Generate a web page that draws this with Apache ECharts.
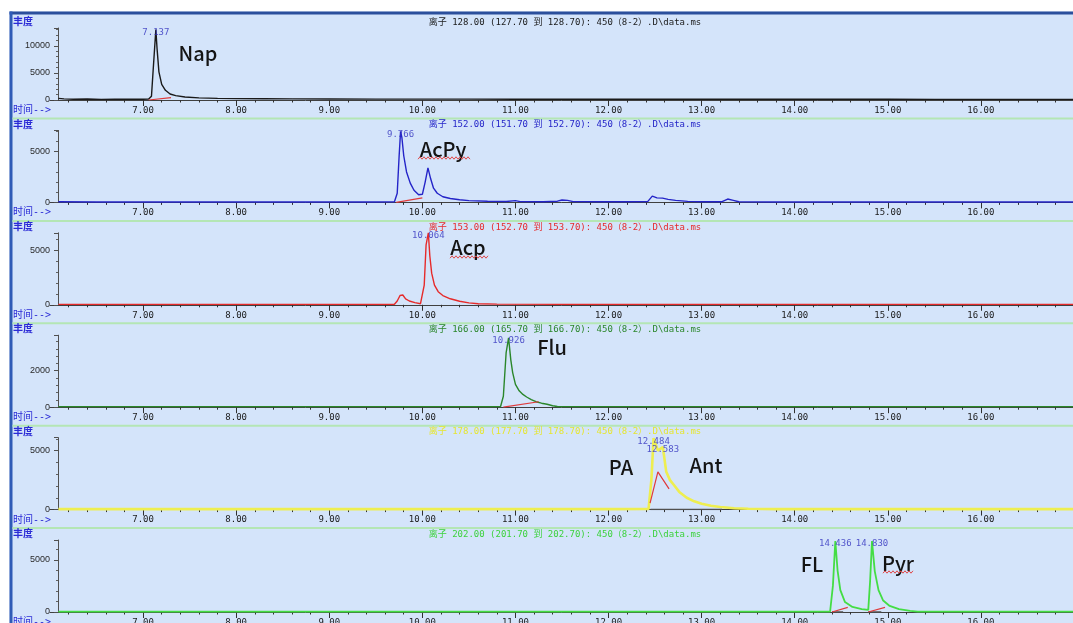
<!DOCTYPE html>
<html>
<head>
<meta charset="utf-8">
<script src="https://cdn.jsdelivr.net/npm/echarts@6/dist/echarts.min.js"></script>
<style>
html, body { margin: 0; padding: 0; background: #ffffff; }
#chart { width: 1073px; height: 623px; }
</style>
</head>
<body>
<div id="chart"></div>
<script>
// ---- extracted ion chromatograms: [retention time (min), abundance] ----
const ionTitles = [
  '离子 128.00 (127.70 到 128.70): 450（8-2）.D\\data.ms',
  '离子 152.00 (151.70 到 152.70): 450（8-2）.D\\data.ms',
  '离子 153.00 (152.70 到 153.70): 450（8-2）.D\\data.ms',
  '离子 166.00 (165.70 到 166.70): 450（8-2）.D\\data.ms',
  '离子 178.00 (177.70 到 178.70): 450（8-2）.D\\data.ms',
  '离子 202.00 (201.70 到 202.70): 450（8-2）.D\\data.ms'
];
const traceColors = ['#1a1a1a', '#2424c8', '#e62a2a', '#2a862a', '#eeee50', '#44dd44'];
const titleColors = ['#1a1a1a', '#2424c8', '#e62a2a', '#2a862a', '#e6e630', '#3cd23c'];
const traceWidths = [1.4, 1.4, 1.4, 1.4, 2.6, 1.8];
const yMax = [13300, 7100, 6600, 3950, 6100, 6900];
const yStep = [5000, 5000, 5000, 2000, 5000, 5000];
const timeTicks = [7, 8, 9, 10, 11, 12, 13, 14, 15, 16];

// labelled peak apexes (retention time, abundance)
const peaks128 = [[7.137, 13000]];
const peaks152 = [[9.766, 7000]];
const peaks153 = [[10.064, 6600]];
const peaks166 = [[10.926, 3800]];
const peaks178 = [[12.484, 6050], [12.583, 5300]];
const peaks202 = [[14.436, 6800], [14.830, 6800]];

const ion128 = [[6.09,300],[6.15,200],[6.25,150],[6.40,180],[6.55,120],[6.70,160],[6.85,140],[7.00,150],[7.06,180],[7.09,700],[7.11,6000],
  [7.15,9500],[7.17,5200],[7.20,2900],[7.24,1800],[7.29,1100],[7.35,800],[7.45,550],[7.60,400],[7.80,300],[8.00,250],[8.30,220],[8.60,200],
  [9.00,180],[9.50,170],[10.0,160],[10.5,160],[11.0,150],[11.5,150],[12.0,140],[12.5,150],[13.0,140],[13.5,130],[14.0,130],[14.5,130],
  [15.0,130],[15.5,120],[16.0,120],[16.5,120],[17.0,120]];
const ion152 = [[6.09,60],[6.5,40],[7.0,40],[7.5,50],[8.0,40],[8.5,40],[9.0,40],[9.5,40],[9.70,60],[9.73,900],[9.75,4500],
  [9.78,6400],[9.80,4600],[9.83,3000],[9.87,1900],[9.91,1200],[9.96,750],[10.00,800],[10.03,2000],[10.06,3400],[10.09,2300],[10.12,1400],
  [10.16,900],[10.22,560],[10.30,380],[10.40,260],[10.50,180],[10.70,120],[10.90,90],[11.00,170],[11.05,80],[11.30,70],[11.45,120],
  [11.50,240],[11.56,200],[11.62,80],[11.90,60],[12.20,60],[12.42,80],[12.47,620],[12.52,450],[12.58,420],[12.64,300],[12.72,200],
  [12.85,100],[13.00,60],[13.22,70],[13.28,330],[13.34,200],[13.40,60],[13.8,40],[14.5,40],[15.5,40],[17.0,40]];
const ion153 = [[6.09,40],[7,40],[8,40],[9,40],[9.70,50],[9.73,350],[9.76,850],[9.79,900],[9.82,550],[9.86,350],[9.92,200],[9.98,100],
  [10.00,120],[10.02,1800],[10.04,5500],[10.08,4500],[10.10,2900],[10.13,1800],[10.17,1200],[10.22,850],[10.30,550],[10.40,330],
  [10.50,180],[10.60,100],[10.80,60],[11.5,40],[12.5,40],[13.5,40],[17,40]];
const ion166 = [[6.09,30],[7,30],[8,30],[9,30],[10,30],[10.5,30],[10.84,40],[10.87,600],[10.90,3000],[10.95,2600],[10.97,1900],
  [11.00,1250],[11.04,900],[11.08,700],[11.12,560],[11.17,420],[11.22,300],[11.28,220],[11.34,160],[11.40,80],[11.45,40],[11.6,30],
  [12,30],[13,30],[17,30]];
const ion178 = [[6.09,40],[7,40],[8,40],[9,40],[10,40],[11,40],[12,40],[12.43,60],[12.46,2500],[12.53,5000],[12.62,3200],[12.66,2500],
  [12.70,2100],[12.76,1500],[12.84,1000],[12.92,700],[13.00,500],[13.10,330],[13.20,220],[13.35,120],[13.50,70],[13.8,40],[14.5,40],[17,40]];
const ion202 = [[6.09,40],[8,40],[10,40],[12,40],[14,40],[14.38,50],[14.41,2500],[14.46,4000],[14.49,2100],[14.54,950],[14.62,480],
  [14.72,280],[14.79,200],[14.81,3000],[14.86,3900],[14.90,2100],[14.95,1100],[15.02,580],[15.12,280],[15.24,100],[15.32,40],[16,40],[17,40]];

// integration baselines
const integ128 = [[[7.06,0],[7.30,450]]];
const integ152 = [[[9.72,0],[10.0,450]]];
const integ153 = [];
const integ166 = [[[10.87,0],[11.25,300]]];
const integ178 = [[[12.446,550],[12.53,3200],[12.65,1750]]];
const integ202 = [[[14.40,0],[14.57,450]], [[14.79,0],[14.97,450]]];
// peak start/stop markers on the time axis
const events178 = [[[12.45,0],[13.22,0]]];
const events202 = [[[14.40,0],[14.52,0]], [[14.79,0],[14.93,0]]];

// compound names
const compounds = [
  { name: 'Nap', x: 198, y: 53 },
  { name: 'AcPy', x: 443, y: 149, wavy: [418, 471, 158] },
  { name: 'Acp', x: 468, y: 247, wavy: [450, 488, 257] },
  { name: 'Flu', x: 552, y: 347 },
  { name: 'PA', x: 621, y: 467 },
  { name: 'Ant', x: 706, y: 465 },
  { name: 'FL', x: 812, y: 564 },
  { name: 'Pyr', x: 898, y: 563, wavy: [883, 914, 572] }
];

const traces = [ion128, ion152, ion153, ion166, ion178, ion202];
const peakSets = [peaks128, peaks152, peaks153, peaks166, peaks178, peaks202];
const integSets = [integ128, integ152, integ153, integ166, integ178, integ202];
const eventSets = [[], [], [], [], events178, events202];

function withPeaks(trace, peaks) {
  return trace.concat(peaks).sort((a, b) => a[0] - b[0]);
}

// ---- layout ----
const FIRST_BASE = 100, PITCH = 102.4, PLOT_H = 72;
const baseY = i => FIRST_BASE + PITCH * i;
const MONO = '"DejaVu Sans Mono", "Noto Sans CJK SC", monospace';

const grids = [], xAxes = [], yAxes = [], series = [], graphics = [];

// window frame
graphics.push({ type: 'rect', shape: { x: 0, y: 0, width: 1073, height: 11.5 }, style: { fill: '#ffffff' }, silent: true });
graphics.push({ type: 'rect', shape: { x: 0, y: 0, width: 9.5, height: 623 }, style: { fill: '#ffffff' }, silent: true });
graphics.push({ type: 'rect', shape: { x: 9.5, y: 11.5, width: 1064, height: 3 }, style: { fill: '#2b4f9c' }, silent: true });
graphics.push({ type: 'rect', shape: { x: 9.5, y: 11.5, width: 3, height: 612 }, style: { fill: '#2f5bb6' }, silent: true });

for (let i = 0; i < 6; i++) {
  const B = baseY(i);
  grids.push({ left: 50, width: 1024, top: B - PLOT_H, height: PLOT_H, outerBoundsMode: 'none', containLabel: false });
  xAxes.push({
    type: 'value', gridIndex: i, min: 6, max: 17, interval: 1,
    axisLine: { show: true, lineStyle: { color: '#404040', width: 1 } },
    axisTick: { show: true, length: 6, customValues: timeTicks, lineStyle: { color: '#303030' } },
    minorTick: { show: true, splitNumber: 5, length: 2.5, lineStyle: { color: '#303030' } },
    axisLabel: {
      show: true, customValues: timeTicks, margin: 6, fontSize: 9, fontFamily: MONO, color: '#1a1a1a',
      formatter: v => v.toFixed(2)
    },
    splitLine: { show: false }
  });
  yAxes.push({
    type: 'value', gridIndex: i, min: 0, max: yMax[i], interval: yStep[i], offset: -8,
    axisLine: { show: true, lineStyle: { color: '#505050', width: 1 } },
    axisTick: { show: true, length: 4, lineStyle: { color: '#505050' } },
    minorTick: { show: true, splitNumber: 5, length: 2, lineStyle: { color: '#606060' } },
    axisLabel: {
      show: true, margin: 8, fontSize: 9, fontFamily: '"Liberation Sans", Arial, sans-serif', color: '#2a2a2a',
      showMaxLabel: false, formatter: v => String(v)
    },
    splitLine: { show: false }
  });

  // chromatogram trace
  series.push({
    type: 'line', xAxisIndex: i, yAxisIndex: i, data: withPeaks(traces[i], peakSets[i]),
    showSymbol: false, symbol: 'none', z: 3,
    lineStyle: { color: traceColors[i], width: traceWidths[i] }, silent: true
  });
  // peak start/stop event bars
  eventSets[i].forEach(seg => series.push({
    type: 'line', xAxisIndex: i, yAxisIndex: i, data: seg, symbol: 'none', z: 4,
    lineStyle: { color: '#505050', width: 1.5 }, silent: true
  }));
  // integration baselines
  integSets[i].forEach(seg => series.push({
    type: 'line', xAxisIndex: i, yAxisIndex: i, data: seg, symbol: 'none', z: 4,
    lineStyle: { color: '#e03a3a', width: 1.2 }, silent: true
  }));
  // retention time labels at peak apexes
  series.push({
    type: 'scatter', xAxisIndex: i, yAxisIndex: i, data: peakSets[i], symbolSize: 1,
    itemStyle: { color: 'rgba(0,0,0,0)' }, z: 6, silent: true,
    label: {
      show: true, position: 'inside', offset: [0, 3], fontSize: 9, fontFamily: MONO, color: '#2f2fbe',
      formatter: p => p.value[0].toFixed(3)
    }
  });

  // panel header: ion title, 丰度 and 时间--> captions
  graphics.push({
    type: 'text', x: 565, y: B - 77.5, silent: true, z: 10,
    style: { text: ionTitles[i], font: '9px ' + MONO, fill: titleColors[i], align: 'center', verticalAlign: 'middle', textAlign: 'center', textVerticalAlign: 'middle' }
  });
  graphics.push({
    type: 'text', x: 13, y: B - 78.5, silent: true, z: 10,
    style: { text: '丰度', font: 'bold 10px "Noto Sans CJK SC", sans-serif', fill: '#2b2bd6', align: 'left', verticalAlign: 'middle', textAlign: 'left', textVerticalAlign: 'middle' }
  });
  graphics.push({
    type: 'text', x: 13, y: B + 10.5, silent: true, z: 10,
    style: { text: '时间-->', font: '10px ' + MONO, fill: '#2b2bd6', align: 'left', verticalAlign: 'middle', textAlign: 'left', textVerticalAlign: 'middle' }
  });
  // separator below the panel
  if (i < 5) {
    graphics.push({ type: 'rect', shape: { x: 12.5, y: B + 17.5, width: 1061, height: 2 }, style: { fill: '#b4e6b4' }, silent: true, z: 1 });
  }
}

// compound names and their wavy underlines
compounds.forEach(c => {
  graphics.push({
    type: 'text', x: c.x, y: c.y, silent: true, z: 20,
    style: { text: c.name, font: '500 20px "Noto Sans CJK SC", "Noto Sans", sans-serif', fill: '#141414', align: 'center', verticalAlign: 'middle', textAlign: 'center', textVerticalAlign: 'middle' }
  });
  if (c.wavy) {
    const pts = [];
    for (let x = c.wavy[0], k = 0; x <= c.wavy[1]; x += 2, k++) pts.push([x, c.wavy[2] + (k % 2 ? -1.2 : 1.2)]);
    graphics.push({ type: 'polyline', shape: { points: pts }, style: { stroke: '#e04848', lineWidth: 1, fill: null }, silent: true, z: 20 });
  }
});

const chart = echarts.init(document.getElementById('chart'), null, { renderer: 'canvas' });
chart.setOption({
  backgroundColor: '#d4e4fa',
  animation: false,
  grid: grids,
  xAxis: xAxes,
  yAxis: yAxes,
  series: series,
  graphic: graphics
});
</script>
</body>
</html>
